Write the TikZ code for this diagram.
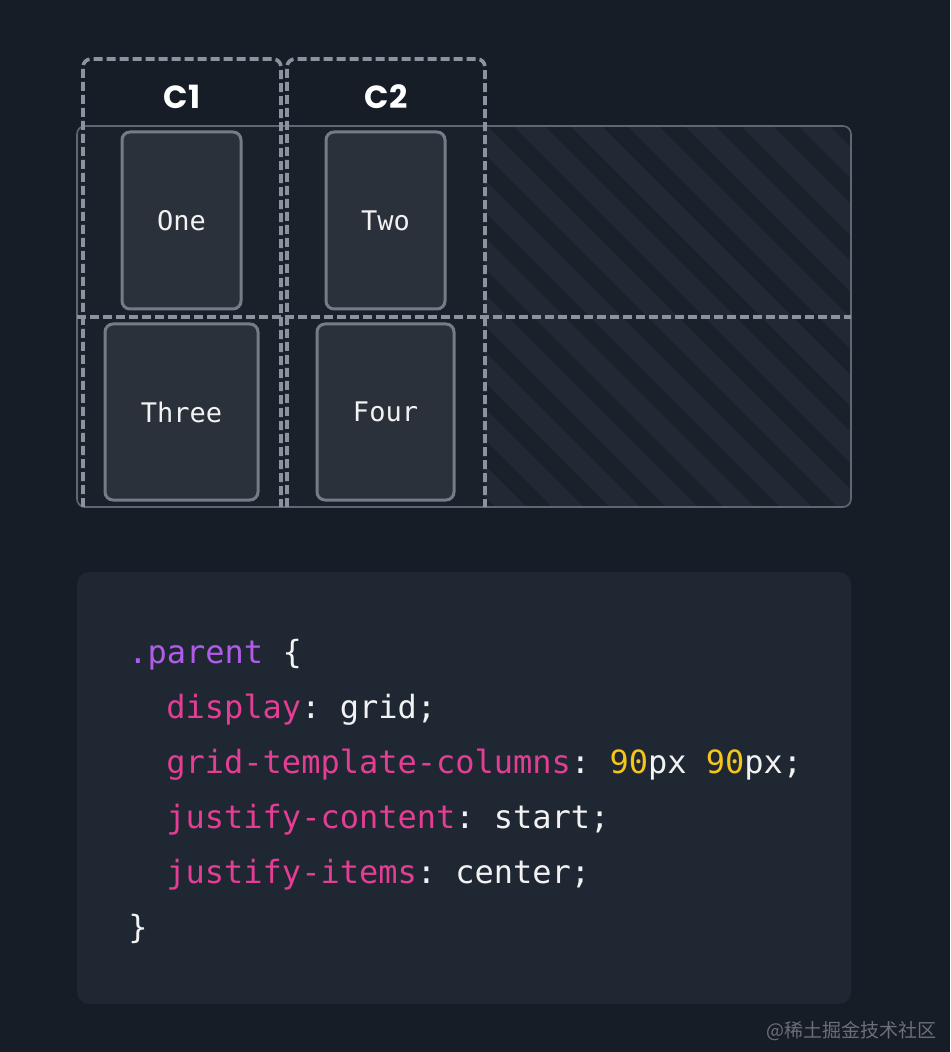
\documentclass[tikz,border=0pt]{standalone}
\usepackage{fontspec}
\setmonofont{DejaVu Sans Mono}
\newfontfamily\headfont{Poppins}
\newfontfamily\cjk{Noto Sans CJK SC}
\definecolor{bg}{HTML}{161D26}
\definecolor{gridbg}{HTML}{19212A}
\definecolor{stripe}{HTML}{212934}
\definecolor{gridline}{HTML}{5E6873}
\definecolor{dashgray}{HTML}{8B949E}
\definecolor{itemfill}{HTML}{2B313A}
\definecolor{itemline}{HTML}{747D87}
\definecolor{codebg}{HTML}{1F2733}
\definecolor{codewhite}{HTML}{F2F2F2}
\definecolor{codepink}{HTML}{E33D94}
\definecolor{codepurple}{HTML}{B05CE8}
\definecolor{codeyellow}{HTML}{F5C518}
\definecolor{mark}{HTML}{6B7078}

\begin{document}
\begin{tikzpicture}[x=0.5pt,y=-0.5pt,
  track/.style={draw=dashgray,line width=1.8pt,dash pattern=on 4.5pt off 2pt,rounded corners=4pt},
  item/.style={draw=itemline,fill=itemfill,line width=1.5pt,rounded corners=4pt,
    text=codewhite,font=\ttfamily\fontsize{13.5}{16}\selectfont},
  colhead/.style={text=white,font=\headfont\bfseries\fontsize{16}{19}\selectfont},
  code/.style={anchor=base west,inner sep=0pt,text=codewhite,font=\ttfamily\fontsize{16}{19}\selectfont}]
\fill[bg] (0,0) rectangle (950,1052);
\useasboundingbox (0,0) rectangle (950,1052);

\fill[gridbg,rounded corners=4pt] (77,126) rectangle (851,507);
\begin{scope}
\clip[rounded corners=4pt] (77,126) rectangle (851,507);
\clip (485,120) rectangle (860,512);
\foreach \s in {0,...,14}
  \draw[stripe,line width=11pt] (104+\s*57,100) -- ++(440,440);
\end{scope}
\draw[gridline,line width=0.8pt,rounded corners=4pt] (77,126) rectangle (851,507);

\draw[track] (83,507) -- (83,59) -- (281,59) -- (281,507);
\draw[track] (287,507) -- (287,59) -- (485,59) -- (485,507);
\draw[track,rounded corners=0pt] (77,317) -- (851,317);

\node[colhead] (c1) at (182,97) {C1};
\node[colhead] (c2) at (386,97) {C2};

\node[item,minimum width=59.5pt,minimum height=88.5pt] (one) at (181.5,220.5) {One};
\node[item,minimum width=59.5pt,minimum height=88.5pt] (two) at (385.5,220.5) {Two};
\node[item,minimum width=76.5pt,minimum height=88pt] (three) at (181.5,412) {Three};
\node[item,minimum width=68.5pt,minimum height=88pt] (four) at (385.5,412) {Four};

\fill[codebg,rounded corners=6pt] (77,572) rectangle (851,1004);
\node[code] (l1) at (128,663) {\textcolor{codepurple}{.parent} \{};
\node[code] (l2) at (166,718) {\textcolor{codepink}{display}: grid;};
\node[code] (l3) at (166,773) {\textcolor{codepink}{grid-template-columns}: \textcolor{codeyellow}{90}px \textcolor{codeyellow}{90}px;};
\node[code] (l4) at (166,828) {\textcolor{codepink}{justify-content}: start;};
\node[code] (l5) at (166,883) {\textcolor{codepink}{justify-items}: center;};
\node[code] (l6) at (128,938) {\}};

\node[anchor=east,text=mark,font=\cjk\fontsize{9.5}{11}\selectfont] (wm) at (944,1031) {@稀土掘金技术社区};
\end{tikzpicture}
\end{document}
